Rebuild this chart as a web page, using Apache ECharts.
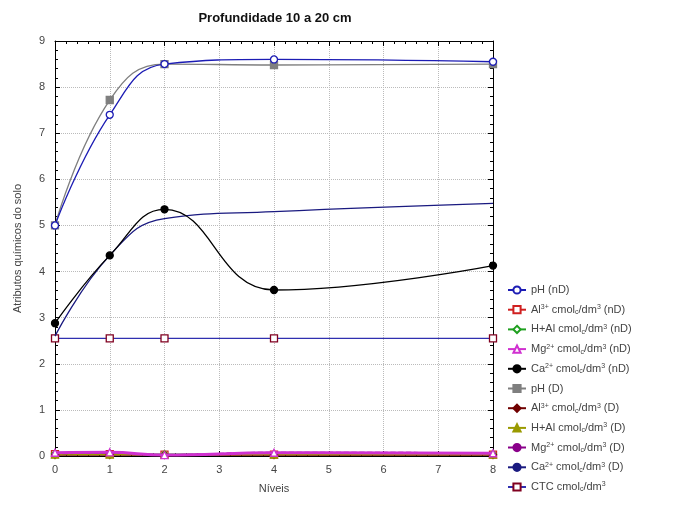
<!DOCTYPE html>
<html><head><meta charset="utf-8">
<script src="https://cdn.jsdelivr.net/npm/echarts@6/dist/echarts.min.js"></script>
<style>html,body{margin:0;padding:0;background:#fff}#c{width:682px;height:508px}</style>
</head><body><div id="c"></div>
<script>
var niveis = [0, 1, 2, 4, 8];
var xTicks = [0,1,2,3,4,5,6,7,8];
var yTicks = [0,1,2,3,4,5,6,7,8,9];
var pH_nD   = [5.0, 7.4, 8.5, 8.6, 8.55];
var Al_nD   = [0.04, 0.04, 0.03, 0.03, 0.03];
var HAl_nD  = [0.05, 0.05, 0.04, 0.04, 0.04];
var Mg_nD   = [0.07, 0.08, 0.02, 0.07, 0.06];
var Ca_nD   = [2.88, 4.35, 5.35, 3.6, 4.13];
var pH_D    = [5.0, 7.72, 8.5, 8.48, 8.5];
var Al_D    = [0.02, 0.02, 0.02, 0.02, 0.02];
var HAl_D   = [0.03, 0.03, 0.03, 0.03, 0.03];
var Mg_D    = [0.05, 0.06, 0.03, 0.08, 0.07];
var Ca_D    = [2.6, 4.35, 5.15, 5.3, 5.48];
var CTC     = [2.55, 2.55, 2.55, 2.55, 2.55];

function pts(v){ return niveis.map(function(x,i){ return [x, v[i]]; }); }
var names = [
 'pH (nD)',
 'Al{sp|3+} cmol{sb|c}/dm{sp|3} (nD)',
 'H+Al cmol{sb|c}/dm{sp|3} (nD)',
 'Mg{sp|2+} cmol{sb|c}/dm{sp|3} (nD)',
 'Ca{sp|2+} cmol{sb|c}/dm{sp|3} (nD)',
 'pH (D)',
 'Al{sp|3+} cmol{sb|c}/dm{sp|3} (D)',
 'H+Al cmol{sb|c}/dm{sp|3} (D)',
 'Mg{sp|2+} cmol{sb|c}/dm{sp|3} (D)',
 'Ca{sp|2+} cmol{sb|c}/dm{sp|3} (D)',
 'CTC cmol{sb|c}/dm{sp|3}'
];
function S(i, data, color, symbol, fill, mcolor, ltype, z, w){
  return {
    name: names[i], type: 'line', data: pts(data), smooth: 0.45,
    symbol: symbol, symbolSize: 7, z: z||2,
    lineStyle: {color: color, width: w||1.3, type: ltype||'solid'},
    itemStyle: {color: fill ? (mcolor||color) : '#fff', borderColor: mcolor||color, borderWidth: 1.3},
    emphasis: {disabled: true}
  };
}
var series = [
  S(0, pH_nD, '#1c1cb4', 'circle', false, null, null, 4),
  S(1, Al_nD, '#d02020', 'rect', false),
  S(2, HAl_nD, '#20a020', 'diamond', false),
  S(3, Mg_nD, '#d030d0', 'triangle', false, null, null, 3, 3),
  S(4, Ca_nD, '#000000', 'circle', true, null, null, 5),
  S(5, pH_D, '#7f7f7f', 'rect', true, null, null, 3),
  S(6, Al_D, '#700000', 'diamond', true),
  S(7, HAl_D, '#9a9a00', 'triangle', true),
  S(8, Mg_D, '#8a008a', 'none', true, null, 'dashed'),
  S(9, Ca_D, '#1a1a80', 'none', true, null, null, 4),
  S(10, CTC, '#3030b0', 'rect', false, '#800020', null, 3)
];
var chart = echarts.init(document.getElementById('c'));
function axisCommon(){
  return {
    axisLine: {show: true, onZero: false, lineStyle: {color: '#000', width: 1}},
    axisTick: {show: true, inside: true, length: 5, lineStyle: {color: '#000'}},
    minorTick: {show: true, splitNumber: 5, length: 3, lineStyle: {color: '#000'}}
  };
}
var font = 'Liberation Sans, Arial';
chart.setOption({
  animation: false,
  backgroundColor: '#fff',
  title: {text: 'Profundidade 10 a 20 cm', left: 270, top: 7, textAlign: 'center',
    textStyle: {fontFamily: font, fontSize: 13, fontWeight: 'bold', color: '#111'}},
  grid: {left: 55, right: 189, top: 41, bottom: 52},
  legend: {
    orient: 'vertical', left: 502, top: 279, itemGap: 7.7, itemWidth: 18, itemHeight: 9,
    textStyle: {fontFamily: font, fontSize: 11, color: '#444', lineHeight: 12,
      rich: {sp: {fontSize: 7, verticalAlign: 'top', color: '#444', lineHeight: 12, padding: [0,0,3,0]},
             sb: {fontSize: 7, verticalAlign: 'bottom', color: '#444', lineHeight: 12, padding: [3,0,0,0]}}},
    data: names
  },
  xAxis: [
    Object.assign({type: 'value', min: 0, max: 8, interval: 1, position: 'bottom',
      name: 'Níveis', nameLocation: 'middle', nameGap: 27,
      nameTextStyle: {fontFamily: font, fontSize: 11, color: '#444'},
      axisLabel: {fontFamily: font, fontSize: 11, color: '#444', margin: 8,
        formatter: function(v){ return xTicks.indexOf(v) >= 0 ? String(v) : ''; }},
      splitLine: {show: true, lineStyle: {color: '#bbb', type: 'dotted'}}}, axisCommon()),
    Object.assign({type: 'value', min: 0, max: 8, interval: 1, position: 'top',
      axisLabel: {show: false}, splitLine: {show: false}}, axisCommon())
  ],
  yAxis: [
    Object.assign({type: 'value', min: 0, max: 9, interval: 1, position: 'left',
      name: 'Atributos químicos do solo', nameLocation: 'middle', nameGap: 32,
      nameTextStyle: {fontFamily: font, fontSize: 11, color: '#444'},
      axisLabel: {fontFamily: font, fontSize: 11, color: '#444', margin: 10,
        formatter: function(v){ return yTicks.indexOf(v) >= 0 ? String(v) : ''; }},
      splitLine: {show: true, lineStyle: {color: '#bbb', type: 'dotted'}}}, axisCommon()),
    Object.assign({type: 'value', min: 0, max: 9, interval: 1, position: 'right',
      axisLabel: {show: false}, splitLine: {show: false}}, axisCommon())
  ],
  series: series
});
</script></body></html>
